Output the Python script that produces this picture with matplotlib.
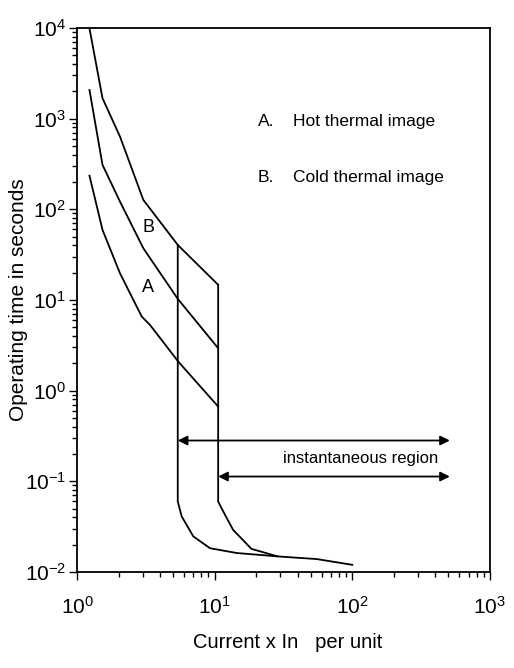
import matplotlib
matplotlib.use("Agg")
import matplotlib.pyplot as plt

plt.rcParams['font.family'] = ['Liberation Sans', 'DejaVu Sans']
plt.rcParams['mathtext.fontset'] = 'custom'
plt.rcParams['mathtext.rm'] = 'Liberation Sans'
plt.rcParams['axes.unicode_minus'] = False

# thermal curves (current x In, time s)
upper_x = [1.23, 1.53, 2.05, 3.03, 5.39, 10.6]
upper_y = [9900, 1680, 634, 127, 40.5, 14.7]
middle_x = [1.23, 1.53, 2.05, 3.03, 5.39, 10.6]
middle_y = [2072, 309, 121.6, 37.2, 10.3, 2.94]
lower_x = [1.23, 1.53, 2.05, 2.95, 3.39, 5.44, 10.6]
lower_y = [235, 59.3, 19.7, 6.56, 5.3, 2.09, 0.668]

# instantaneous boundaries
left_x = [5.39, 5.39, 5.76, 6.99, 9.25, 14.45, 29.8, 55, 100]
left_y = [40.5, 0.06, 0.041, 0.0247, 0.0183, 0.0162, 0.0148, 0.0139, 0.012]
right_x = [10.6, 10.6, 11.2, 13.6, 18.5, 28.5]
right_y = [14.7, 0.06, 0.0507, 0.0292, 0.018, 0.0149]

# arrows: (start x, end x, y)
arrow_top = (5.39, 512, 0.282)
arrow_bot = (10.6, 512, 0.113)

x_ticks = [1, 10, 100, 1000]
y_ticks = [1e-2, 1e-1, 1, 10, 100, 1000, 10000]

fig = plt.figure(figsize=(5.14, 6.68), dpi=100)
ax = fig.add_axes([0.150, 0.1437, 0.803, 0.8144])

lw = 1.3
for xs, ys in [(upper_x, upper_y), (middle_x, middle_y), (lower_x, lower_y),
               (left_x, left_y), (right_x, right_y)]:
    ax.plot(xs, ys, color='black', lw=lw)

for x0, x1, y in [arrow_top, arrow_bot]:
    ax.annotate('', xy=(x1, y), xytext=(x0, y),
                arrowprops=dict(arrowstyle='<|-|>', color='black', lw=1.3,
                                mutation_scale=14, shrinkA=0, shrinkB=0))

ax.text(419, 0.177, 'instantaneous region', ha='right', va='center', fontsize=12)
ax.text(3.28, 62.4, 'B', ha='center', va='center', fontsize=13)
ax.text(3.28, 13.9, 'A', ha='center', va='center', fontsize=13)
ax.text(20.6, 920, 'A.', ha='left', va='center', fontsize=12.5)
ax.text(37.0, 920, 'Hot thermal image', ha='left', va='center', fontsize=12.5)
ax.text(20.6, 227, 'B.', ha='left', va='center', fontsize=12.5)
ax.text(37.0, 227, 'Cold thermal image', ha='left', va='center', fontsize=12.5)

ax.set_xscale('log')
ax.set_yscale('log')
ax.set_xticks(x_ticks)
ax.set_yticks(y_ticks)
ax.set_xlim(1, 1000)
ax.set_ylim(0.01, 10000)

ax.tick_params(which='both', direction='out', top=False, right=False, width=1)
ax.tick_params(which='major', length=6, labelsize=15)
ax.tick_params(axis='x', which='major', pad=11)
ax.tick_params(axis='y', which='major', pad=2)
ax.tick_params(which='minor', length=3.5)
for s in ax.spines.values():
    s.set_linewidth(1.3)

ax.set_xlabel('Current x In   per unit', fontsize=14.5)
ax.xaxis.set_label_coords(0.51, -0.112)
ax.set_ylabel('Operating time in seconds', fontsize=15)
ax.yaxis.set_label_coords(-0.119, 0.5)

fig.savefig('out.png', dpi=100)
